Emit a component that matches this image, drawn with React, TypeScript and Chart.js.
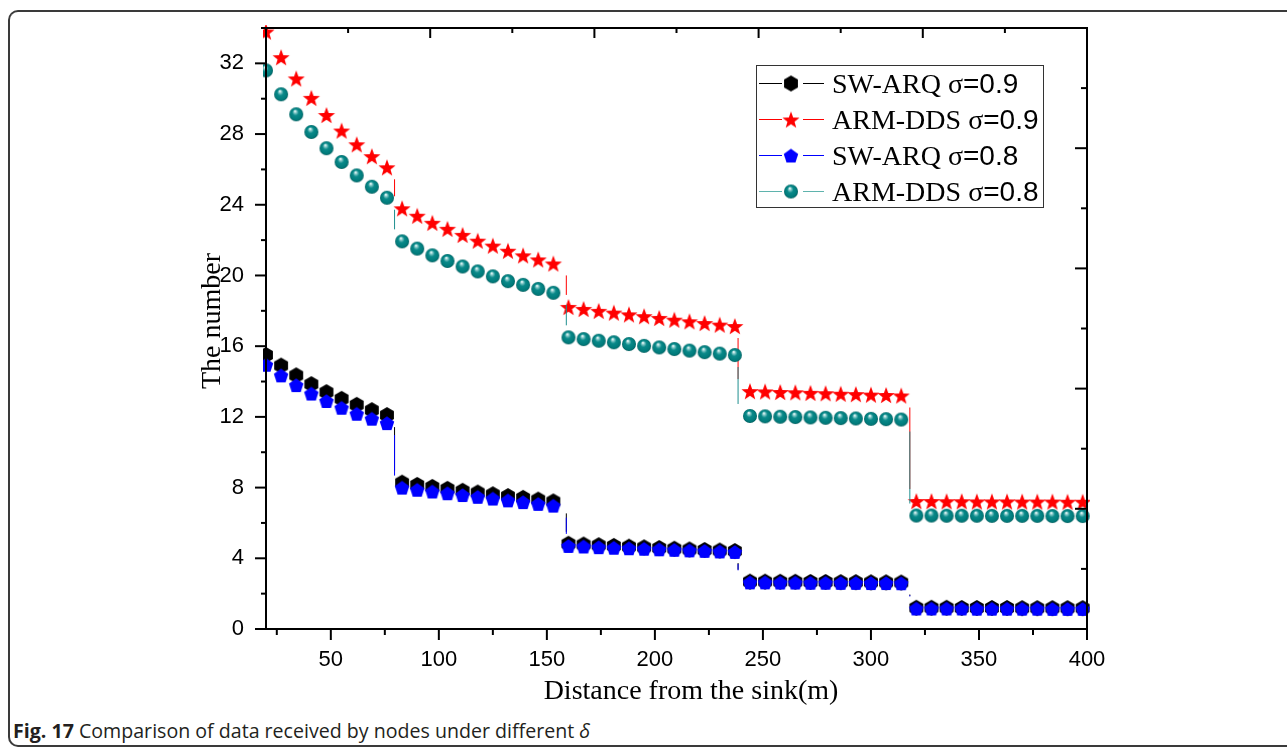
import React, { useEffect, useRef } from 'react';
import { Chart, registerables } from 'chart.js';

Chart.register(...registerables);

// ---------- data ----------
const distances = [
  20, 27, 34, 41, 48, 55, 62, 69, 76,
  83, 90, 97, 104, 111, 118, 125, 132, 139, 146, 153,
  160, 167, 174, 181, 188, 195, 202, 209, 216, 223, 230, 237,
  244, 251, 258, 265, 272, 279, 286, 293, 300, 307, 314,
  321, 328, 335, 342, 349, 356, 363, 370, 377, 384, 391, 398,
];

const swArq09 = [
  15.5, 14.9, 14.35, 13.85, 13.4, 13.02, 12.68, 12.38, 12.1,
  8.28, 8.15, 8.04, 7.93, 7.82, 7.72, 7.62, 7.52, 7.42, 7.32, 7.22,
  4.82, 4.78, 4.74, 4.7, 4.66, 4.62, 4.58, 4.54, 4.5, 4.47, 4.44, 4.41,
  2.68, 2.68, 2.67, 2.67, 2.66, 2.66, 2.65, 2.65, 2.64, 2.64, 2.63,
  1.2, 1.2, 1.2, 1.19, 1.19, 1.19, 1.19, 1.18, 1.18, 1.18, 1.18, 1.18,
];

const armDds09 = [
  33.8, 32.35, 31.15, 30.05, 29.08, 28.2, 27.42, 26.75, 26.12,
  23.8, 23.38, 22.98, 22.64, 22.3, 21.97, 21.69, 21.4, 21.14, 20.91, 20.68,
  18.22, 18.11, 18.0, 17.9, 17.8, 17.7, 17.6, 17.5, 17.41, 17.31, 17.22, 17.14,
  13.46, 13.44, 13.41, 13.39, 13.36, 13.34, 13.31, 13.29, 13.26, 13.24, 13.21,
  7.24, 7.24, 7.23, 7.23, 7.22, 7.22, 7.22, 7.21, 7.21, 7.21, 7.2, 7.2,
];

const swArq08 = [
  14.95, 14.35, 13.8, 13.32, 12.9, 12.52, 12.18, 11.9, 11.65,
  8.0, 7.88, 7.78, 7.68, 7.58, 7.48, 7.38, 7.28, 7.18, 7.08, 6.98,
  4.7, 4.67, 4.63, 4.6, 4.57, 4.54, 4.51, 4.48, 4.45, 4.42, 4.39, 4.36,
  2.64, 2.64, 2.63, 2.63, 2.62, 2.62, 2.61, 2.61, 2.6, 2.6, 2.59,
  1.16, 1.16, 1.16, 1.16, 1.15, 1.15, 1.15, 1.15, 1.15, 1.14, 1.14, 1.14,
];

const armDds08 = [
  31.6, 30.25, 29.12, 28.12, 27.2, 26.42, 25.66, 25.02, 24.4,
  21.93, 21.52, 21.14, 20.82, 20.51, 20.23, 19.95, 19.68, 19.47, 19.24, 19.02,
  16.5, 16.4, 16.31, 16.22, 16.12, 16.02, 15.93, 15.84, 15.75, 15.66, 15.58, 15.5,
  12.05, 12.03, 12.01, 11.99, 11.97, 11.95, 11.93, 11.91, 11.89, 11.87, 11.85,
  6.42, 6.42, 6.41, 6.41, 6.41, 6.4, 6.4, 6.4, 6.4, 6.39, 6.39, 6.39,
];

// distances where the curves drop to the next level
const stepDistances = [79.5, 159, 238.5, 318];

const seriesNames = ['SW-ARQ σ', 'ARM-DDS σ', 'SW-ARQ σ', 'ARM-DDS σ'];
const seriesSigma = ['=0.9', '=0.9', '=0.8', '=0.8'];

const xMajorTicks = [50, 100, 150, 200, 250, 300, 350, 400];
const xMinorTicks = [25, 75, 125, 175, 225, 275, 325, 375];
const yMajorTicks = [0, 4, 8, 12, 16, 20, 24, 28, 32];
const yMinorTicks = [2, 6, 10, 14, 18, 22, 26, 30, 34];
const oppositeTicks = [0, 1, 2, 3, 4, 5, 6, 7, 8, 9, 10];

const xTitle = 'Distance from the sink(m)';
const yTitle = 'The number';

// ---------- helpers ----------
function buildLine(values: number[]) {
  const pts: { x: number; y: number; m: boolean }[] = [];
  for (let i = 0; i < distances.length; i++) {
    pts.push({ x: distances[i], y: values[i], m: true });
    if (i < distances.length - 1) {
      const s = stepDistances.find((d) => d > distances[i] && d <= distances[i + 1]);
      if (s !== undefined) {
        pts.push({ x: s, y: values[i], m: false });
        pts.push({ x: s, y: values[i + 1], m: false });
      }
    }
  }
  return pts;
}

function makeMarker(kind: string): HTMLCanvasElement {
  const size = 20;
  const c = document.createElement('canvas');
  c.width = size;
  c.height = size;
  const g = c.getContext('2d')!;
  const cx = size / 2;
  const cy = size / 2;
  g.beginPath();
  if (kind === 'hex') {
    const r = 8;
    for (let i = 0; i < 6; i++) {
      const a = -Math.PI / 2 + (i * Math.PI) / 3;
      const px = cx + r * Math.cos(a);
      const py = cy + r * Math.sin(a);
      if (i === 0) g.moveTo(px, py);
      else g.lineTo(px, py);
    }
    g.closePath();
    g.fillStyle = '#000000';
    g.fill();
  } else if (kind === 'pent') {
    const r = 7.6;
    for (let i = 0; i < 5; i++) {
      const a = -Math.PI / 2 + (i * 2 * Math.PI) / 5;
      const px = cx + r * Math.cos(a);
      const py = cy + 0.8 + r * Math.sin(a);
      if (i === 0) g.moveTo(px, py);
      else g.lineTo(px, py);
    }
    g.closePath();
    g.fillStyle = '#0000ff';
    g.fill();
  } else if (kind === 'star') {
    const ro = 9;
    const ri = 3.7;
    for (let i = 0; i < 10; i++) {
      const a = -Math.PI / 2 + (i * Math.PI) / 5;
      const r = i % 2 === 0 ? ro : ri;
      const px = cx + r * Math.cos(a);
      const py = cy + 1 + r * Math.sin(a);
      if (i === 0) g.moveTo(px, py);
      else g.lineTo(px, py);
    }
    g.closePath();
    g.fillStyle = '#ff0000';
    g.fill();
  } else {
    const r = 7;
    const grad = g.createRadialGradient(cx - 1.2, cy - 3.2, 0.3, cx, cy, r);
    grad.addColorStop(0, '#f4ffff');
    grad.addColorStop(0.17, '#86c9c9');
    grad.addColorStop(0.42, '#0a8a8a');
    grad.addColorStop(0.85, '#007a7a');
    grad.addColorStop(1, '#005c5c');
    g.arc(cx, cy, r, 0, Math.PI * 2);
    g.fillStyle = grad;
    g.fill();
  }
  return c;
}

const dropGap = 12;

export default function App() {
  const canvasRef = useRef<HTMLCanvasElement | null>(null);

  useEffect(() => {
    const canvas = canvasRef.current;
    if (!canvas) return;

    const markers = [makeMarker('hex'), makeMarker('star'), makeMarker('pent'), makeMarker('sphere')];
    const lineColors = ['#000000', '#ff0000', '#0000ff', '#1f8f8f'];
    const legendLineColors = ['#000000', '#ff0000', '#0000ff', '#5fb3ad'];
    const seriesValues = [swArq09, armDds09, swArq08, armDds08];
    const orders = [4, 3, 2, 1];
    const clear = 'rgba(0,0,0,0)';

    const datasets = seriesValues.map((vals, i) => ({
      label: seriesNames[i] + seriesSigma[i],
      data: buildLine(vals),
      borderColor: lineColors[i],
      borderWidth: 1,
      fill: false,
      tension: 0,
      pointStyle: markers[i],
      pointRadius: (c: any) => (c.raw && c.raw.m ? 7 : 0),
      pointHoverRadius: 0,
      clip: 3,
      order: orders[i],
      xAxisID: 'x',
      yAxisID: 'y',
      segment: {
        borderColor: (sc: any) => {
          const { p0, p1 } = sc;
          if (Math.abs(p0.x - p1.x) > 0.5) return clear;
          const L = Math.abs(p1.y - p0.y);
          return L - 2 * dropGap > 0 ? lineColors[i] : clear;
        },
        borderDash: (sc: any) => {
          const { p0, p1 } = sc;
          if (Math.abs(p0.x - p1.x) > 0.5) return undefined;
          const L = Math.abs(p1.y - p0.y);
          return [0, dropGap, Math.max(L - 2 * dropGap, 0), 3000];
        },
      },
    }));

    const decor = {
      id: 'decor',
      afterDraw(chart: any) {
        const { ctx, chartArea: ca, scales } = chart;
        ctx.save();
        ctx.strokeStyle = '#000';
        ctx.lineWidth = 2;
        ctx.lineCap = 'butt';
        ctx.setLineDash([]);
        const seg = (x1: number, y1: number, x2: number, y2: number) => {
          ctx.beginPath();
          ctx.moveTo(x1, y1);
          ctx.lineTo(x2, y2);
          ctx.stroke();
        };
        // frame
        ctx.strokeRect(ca.left, ca.top, ca.right - ca.left, ca.bottom - ca.top);
        // bottom ticks (outward)
        xMajorTicks.forEach((v) => {
          const p = scales.x.getPixelForValue(v);
          seg(p, ca.bottom, p, ca.bottom + 11);
        });
        xMinorTicks.forEach((v) => {
          const p = scales.x.getPixelForValue(v);
          seg(p, ca.bottom, p, ca.bottom + 6);
        });
        // left ticks (outward)
        yMajorTicks.forEach((v) => {
          const p = scales.y.getPixelForValue(v);
          seg(ca.left, p, ca.left - 11, p);
        });
        yMinorTicks.forEach((v) => {
          const p = scales.y.getPixelForValue(v);
          seg(ca.left, p, ca.left - 5, p);
        });
        // top ticks (inward)
        oppositeTicks.forEach((v) => {
          const p = scales.x2.getPixelForValue(v);
          seg(p, ca.top, p, ca.top + (v % 2 === 0 ? 10 : 5));
        });
        // right ticks (inward)
        oppositeTicks.forEach((v) => {
          const p = scales.y2.getPixelForValue(v);
          seg(ca.right, p, ca.right - (v % 2 === 0 ? 12 : 6), p);
        });

        // axis titles
        ctx.fillStyle = '#000';
        ctx.font = '28px "Liberation Serif"';
        ctx.textAlign = 'center';
        ctx.textBaseline = 'alphabetic';
        ctx.fillText(xTitle, 691, 699);
        ctx.save();
        ctx.translate(220, 321);
        ctx.rotate(-Math.PI / 2);
        ctx.fillText(yTitle, 0, 0);
        ctx.restore();

        // legend box
        const bx = ca.right - 331;
        const by = ca.top + 37;
        const bw = 287;
        const bh = 142;
        ctx.fillStyle = '#fff';
        ctx.fillRect(bx, by, bw, bh);
        ctx.lineWidth = 1;
        ctx.strokeStyle = '#333';
        ctx.strokeRect(bx + 0.5, by + 0.5, bw, bh);
        for (let i = 0; i < 4; i++) {
          const cy = by + 18.5 + i * 36;
          ctx.strokeStyle = legendLineColors[i];
          ctx.lineWidth = 1;
          seg(bx + 3, cy, bx + 26, cy);
          seg(bx + 47, cy, bx + 68, cy);
          const m = markers[i];
          ctx.drawImage(m, bx + 35 - m.width / 2, cy - m.height / 2);
          ctx.fillStyle = '#000';
          ctx.textAlign = 'left';
          ctx.font = '28px "Liberation Serif"';
          const tx = bx + 76;
          const ty = cy + 9.5;
          ctx.fillText(seriesNames[i], tx, ty);
          const w = ctx.measureText(seriesNames[i]).width;
          ctx.font = '28px "Liberation Sans"';
          ctx.fillText(seriesSigma[i], tx + w, ty);
        }
        ctx.restore();
      },
    };

    const tickFont = { family: 'Liberation Sans', size: 22 };

    const chart = new Chart(canvas, {
      type: 'line',
      data: { datasets: datasets as any },
      plugins: [decor],
      options: {
        animation: false,
        responsive: false,
        events: [],
        layout: { padding: { top: 28, right: 200, left: 0, bottom: 0 } },
        plugins: {
          legend: { display: false },
          tooltip: { enabled: false },
          title: { display: false },
        },
        scales: {
          x: {
            type: 'linear',
            position: 'bottom',
            min: 20,
            max: 400,
            afterFit: (s: any) => {
              s.height = 83;
            },
            afterBuildTicks: (s: any) => {
              s.ticks = [...xMajorTicks, ...xMinorTicks].sort((a, b) => a - b).map((v) => ({ value: v }));
            },
            grid: { display: true, drawOnChartArea: false, drawTicks: true, tickLength: 11, color: clear, tickColor: clear },
            border: { display: false },
            ticks: {
              font: tickFont,
              color: '#000',
              padding: 7,
              maxRotation: 0,
              autoSkip: false,
              callback: (v: any) => (xMajorTicks.includes(Number(v)) ? String(v) : ''),
            },
          },
          y: {
            type: 'linear',
            position: 'left',
            min: 0,
            max: 34,
            afterFit: (s: any) => {
              s.width = 266;
            },
            afterBuildTicks: (s: any) => {
              s.ticks = [...yMajorTicks, ...yMinorTicks].sort((a, b) => a - b).map((v) => ({ value: v }));
            },
            grid: { display: true, drawOnChartArea: false, drawTicks: true, tickLength: 11, color: clear, tickColor: clear },
            border: { display: false },
            ticks: {
              font: tickFont,
              color: '#000',
              padding: 11,
              autoSkip: false,
              callback: (v: any) => (yMajorTicks.includes(Number(v)) ? String(v) : ''),
            },
          },
          x2: { type: 'linear', position: 'top', min: 0, max: 10, display: false },
          y2: { type: 'linear', position: 'right', min: 0, max: 10, display: false },
        },
      } as any,
    });

    return () => {
      chart.destroy();
    };
  }, []);

  return (
    <div style={{ position: 'fixed', left: 0, top: 0, width: 1287, height: 748, overflow: 'hidden', background: '#fff' }}>
      <div
        style={{
          position: 'absolute',
          left: 8,
          top: 10,
          width: 1320,
          height: 737,
          borderTop: '2px solid #3a3a3a',
          borderLeft: '2px solid #3a3a3a',
          borderBottom: '2px solid #3a3a3a',
          borderRadius: 10,
          boxSizing: 'border-box',
        }}
      />
      <canvas ref={canvasRef} width={1287} height={712} style={{ position: 'absolute', left: 0, top: 0 }} />
      <div
        style={{
          position: 'absolute',
          left: 13,
          top: 718,
          fontFamily: '"Open Sans", sans-serif',
          fontSize: 19.6,
          lineHeight: '25px',
          color: '#231f20',
          whiteSpace: 'nowrap',
        }}
      >
        <b>Fig. 17</b> Comparison of data received by nodes under different <i>δ</i>
      </div>
    </div>
  );
}
